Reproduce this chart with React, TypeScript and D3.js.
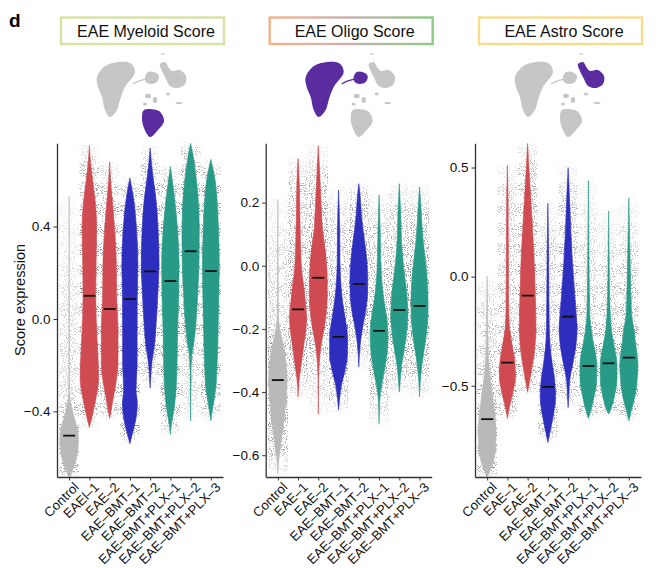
import React, { useEffect, useRef } from 'react';
import * as d3 from 'd3';

// categories
const groups = ['Control', 'EAE–1', 'EAE–2', 'EAE–BMT–1', 'EAE–BMT–2', 'EAE–BMT+PLX–1', 'EAE–BMT+PLX–2', 'EAE–BMT+PLX–3'];
const myeloidLabels = ['Control', 'EAEl–1', 'EAE–2', 'EAE–BMT–1', 'EAE–BMT–2', 'EAE–BMT+PLX–1', 'EAE–BMT+PLX–2', 'EAE–BMT+PLX–3'];
const groupColors = ['#b9b9b9', '#cf4b51', '#cf4b51', '#2d2dbe', '#2d2dbe', '#279a88', '#279a88', '#279a88'];

const titles = ['EAE Myeloid Score', 'EAE Oligo Score', 'EAE Astro Score'];

// axis limits and ticks
const yDomains = [[-0.684, 0.76], [-0.669, 0.388], [-0.918, 0.611]];
const yTicks = [[-0.4, 0, 0.4], [-0.6, -0.4, -0.2, 0, 0.2], [-0.5, 0, 0.5]];

// medians
const myeloidMedians = [-0.505, 0.1, 0.043, 0.086, 0.206, 0.164, 0.293, 0.207];
const oligoMedians = [-0.362, -0.138, -0.038, -0.225, -0.058, -0.206, -0.14, -0.127];
const astroMedians = [-0.653, -0.394, -0.087, -0.505, -0.183, -0.409, -0.397, -0.371];

// violin profiles: [score, relative width]
const myeloidViolins = [
  [[0.53, 0], [0.0, 0.015], [-0.2, 0.02], [-0.33, 0.06], [-0.37, 0.2], [-0.42, 0.5], [-0.47, 0.85], [-0.52, 1], [-0.6, 0.8], [-0.66, 0.3], [-0.69, 0]],
  [[0.75, 0], [0.67, 0.14], [0.6, 0.35], [0.53, 0.57], [0.4, 0.78], [0.24, 0.72], [0.1, 0.68], [-0.05, 0.78], [-0.19, 0.96], [-0.26, 1], [-0.34, 0.72], [-0.41, 0.36], [-0.47, 0]],
  [[0.68, 0], [0.6, 0.1], [0.53, 0.25], [0.385, 0.54], [0.24, 0.72], [0.1, 0.75], [-0.05, 0.9], [-0.19, 0.9], [-0.26, 0.75], [-0.34, 0.4], [-0.41, 0.1], [-0.43, 0]],
  [[0.61, 0], [0.53, 0.36], [0.385, 0.72], [0.24, 0.86], [0.1, 0.8], [-0.05, 0.78], [-0.19, 0.78], [-0.31, 0.66], [-0.36, 0.8], [-0.44, 0.62], [-0.5, 0.25], [-0.54, 0]],
  [[0.74, 0], [0.67, 0.15], [0.6, 0.36], [0.53, 0.6], [0.385, 0.86], [0.24, 0.96], [0.1, 0.82], [-0.05, 0.6], [-0.12, 0.45], [-0.19, 0.18], [-0.26, 0.06], [-0.3, 0]],
  [[0.66, 0], [0.6, 0.2], [0.53, 0.43], [0.385, 0.78], [0.24, 0.93], [0.1, 0.9], [-0.05, 0.78], [-0.19, 0.72], [-0.34, 0.54], [-0.41, 0.32], [-0.46, 0.1], [-0.5, 0]],
  [[0.76, 0], [0.72, 0.2], [0.67, 0.4], [0.53, 0.8], [0.385, 0.93], [0.24, 0.9], [0.1, 0.75], [-0.02, 0.57], [-0.1, 0.36], [-0.16, 0.12], [-0.22, 0.05], [-0.34, 0.03], [-0.44, 0]],
  [[0.69, 0], [0.6, 0.46], [0.53, 0.64], [0.385, 0.82], [0.24, 0.9], [0.1, 0.86], [-0.05, 0.78], [-0.19, 0.68], [-0.31, 0.5], [-0.38, 0.22], [-0.44, 0]],
];

const oligoViolins = [
  [[0.21, 0], [0.0, 0.03], [-0.15, 0.06], [-0.2, 0.2], [-0.25, 0.58], [-0.31, 0.88], [-0.36, 1], [-0.41, 0.92], [-0.47, 0.73], [-0.52, 0.54], [-0.57, 0.3], [-0.61, 0.12], [-0.66, 0]],
  [[0.34, 0], [0.27, 0.12], [0.166, 0.19], [0.06, 0.27], [-0.014, 0.38], [-0.066, 0.62], [-0.12, 0.8], [-0.17, 0.92], [-0.2, 0.85], [-0.25, 0.62], [-0.31, 0.35], [-0.36, 0.12], [-0.415, 0]],
  [[0.38, 0], [0.27, 0.19], [0.166, 0.35], [0.113, 0.46], [0.06, 0.7], [0.007, 0.88], [-0.045, 0.96], [-0.098, 0.96], [-0.15, 0.85], [-0.2, 0.62], [-0.25, 0.3], [-0.31, 0.1], [-0.36, 0.03], [-0.47, 0]],
  [[0.24, 0], [0.113, 0.12], [0.007, 0.15], [-0.066, 0.27], [-0.12, 0.46], [-0.17, 0.73], [-0.225, 0.96], [-0.28, 0.96], [-0.33, 0.7], [-0.38, 0.3], [-0.425, 0.1], [-0.457, 0]],
  [[0.26, 0], [0.22, 0.15], [0.166, 0.27], [0.113, 0.46], [0.06, 0.7], [0.007, 0.88], [-0.045, 0.96], [-0.098, 0.92], [-0.15, 0.7], [-0.2, 0.38], [-0.25, 0.15], [-0.32, 0]],
  [[0.224, 0], [0.113, 0.12], [0.007, 0.19], [-0.066, 0.35], [-0.12, 0.58], [-0.17, 0.85], [-0.225, 0.96], [-0.28, 0.85], [-0.33, 0.58], [-0.38, 0.27], [-0.425, 0.08], [-0.5, 0]],
  [[0.26, 0], [0.166, 0.15], [0.06, 0.27], [-0.014, 0.5], [-0.066, 0.73], [-0.12, 0.88], [-0.16, 0.92], [-0.215, 0.77], [-0.27, 0.5], [-0.32, 0.23], [-0.37, 0.08], [-0.4, 0]],
  [[0.25, 0], [0.166, 0.19], [0.092, 0.35], [0.028, 0.58], [-0.024, 0.77], [-0.077, 0.88], [-0.13, 0.92], [-0.183, 0.85], [-0.235, 0.65], [-0.288, 0.38], [-0.34, 0.15], [-0.415, 0]],
];

const astroViolins = [
  [[0.0, 0], [-0.15, 0.04], [-0.32, 0.1], [-0.4, 0.2], [-0.49, 0.4], [-0.55, 0.6], [-0.62, 0.8], [-0.7, 0.96], [-0.78, 0.92], [-0.84, 0.7], [-0.88, 0.4], [-0.92, 0]],
  [[0.51, 0], [0.37, 0.07], [0.06, 0.11], [-0.17, 0.15], [-0.24, 0.25], [-0.32, 0.54], [-0.4, 0.83], [-0.46, 0.87], [-0.52, 0.65], [-0.58, 0.32], [-0.63, 0.07], [-0.65, 0]],
  [[0.61, 0], [0.52, 0.11], [0.37, 0.32], [0.21, 0.54], [0.06, 0.72], [-0.09, 0.83], [-0.24, 0.9], [-0.32, 0.79], [-0.4, 0.54], [-0.47, 0.25], [-0.52, 0.04], [-0.53, 0]],
  [[0.336, 0], [0.14, 0.07], [-0.09, 0.11], [-0.24, 0.15], [-0.32, 0.25], [-0.4, 0.47], [-0.47, 0.72], [-0.55, 0.83], [-0.63, 0.61], [-0.7, 0.29], [-0.76, 0]],
  [[0.5, 0], [0.37, 0.14], [0.21, 0.29], [0.06, 0.47], [-0.09, 0.72], [-0.17, 0.87], [-0.24, 0.97], [-0.32, 0.83], [-0.4, 0.5], [-0.47, 0.18], [-0.55, 0.07], [-0.6, 0]],
  [[0.44, 0], [0.06, 0.07], [-0.17, 0.15], [-0.24, 0.29], [-0.32, 0.61], [-0.4, 0.9], [-0.47, 0.9], [-0.55, 0.61], [-0.61, 0.29], [-0.65, 0]],
  [[0.3, 0], [0.06, 0.06], [-0.09, 0.11], [-0.24, 0.29], [-0.32, 0.61], [-0.4, 0.9], [-0.47, 0.9], [-0.55, 0.61], [-0.61, 0.22], [-0.63, 0]],
  [[0.36, 0], [0.06, 0.14], [-0.17, 0.29], [-0.24, 0.54], [-0.32, 0.76], [-0.4, 0.97], [-0.47, 0.9], [-0.55, 0.65], [-0.61, 0.29], [-0.66, 0]],
];

// umap thumbnail outline, relative to panel centre
const umapShapes = {
  oligo: [[-42, 77], [-32, 65], [-9, 63], [-4, 72], [-14, 87], [-19, 100], [-22, 110], [-29, 117], [-34, 110], [-37, 97], [-41, 87]],
  opc: [[6, 77], [9, 72], [15, 72], [20, 76], [18, 82], [12, 84], [7, 82]],
  astro: [[21, 64], [26, 62], [30, 68], [33, 71], [41, 70], [47, 76], [46, 84], [39, 88], [31, 86], [27, 79], [23, 71]],
  myeloid: [[5, 110], [20, 111], [25, 121], [19, 130], [11, 137], [5, 128], [3, 118]],
};
const umapIslands = [[9, 96, 3, 2.2], [16, 100, 2.2, 3], [6, 104, 2, 1.5], [40, 103, 3.5, 1], [29, 94, 2, 1.5], [24, 54, 2, 0.8]];

const panels = [
  { labels: myeloidLabels, medians: myeloidMedians, violins: myeloidViolins, hi: ['myeloid'], border: '#d5e3a2' },
  { labels: groups, medians: oligoMedians, violins: oligoViolins, hi: ['oligo', 'opc'], border: 'url(#oligoBorder)' },
  { labels: groups, medians: astroMedians, violins: astroViolins, hi: ['astro'], border: '#f8dc8c' },
];

const FONT = 'Liberation Sans, Arial, Helvetica, sans-serif';

export default function App() {
  const ref = useRef<SVGSVGElement>(null);

  useEffect(() => {
    const svg = d3.select(ref.current);
    svg.selectAll('*').remove();

    const panelX = [57, 265.7, 475];
    const panelW = 166;
    const top = 143.3;
    const bottom = 477;

    const defs = svg.append('defs');
    const f = defs.append('filter').attr('id', 'speckle')
      .attr('filterUnits', 'userSpaceOnUse')
      .attr('x', 0).attr('y', 0).attr('width', 662).attr('height', 568)
      .attr('color-interpolation-filters', 'sRGB');
    f.append('feTurbulence').attr('type', 'fractalNoise').attr('baseFrequency', 0.95)
      .attr('numOctaves', 1).attr('seed', 11).attr('result', 'noise');
    f.append('feColorMatrix').attr('in', 'noise').attr('type', 'matrix')
      .attr('values', '0 0 0 0 0.5  0 0 0 0 0.5  0 0 0 0 0.5  16 0 0 0 -9.0')
      .attr('result', 'dots');
    f.append('feComposite').attr('in', 'dots').attr('in2', 'SourceGraphic').attr('operator', 'in');

    const og = defs.append('linearGradient').attr('id', 'oligoBorder')
      .attr('x1', 0).attr('y1', 0).attr('x2', 1).attr('y2', 0);
    og.append('stop').attr('offset', 0).attr('stop-color', '#f2b488');
    og.append('stop').attr('offset', 0.5).attr('stop-color', '#c8b0b0');
    og.append('stop').attr('offset', 1).attr('stop-color', '#8ccb82');

    // panel letter
    svg.append('text').attr('x', 9).attr('y', 27)
      .attr('font-family', FONT).attr('font-weight', 'bold').attr('font-size', 19)
      .text('d');

    // y title
    svg.append('text')
      .attr('transform', 'translate(25,300) rotate(-90)')
      .attr('text-anchor', 'middle')
      .attr('font-family', FONT).attr('font-size', 14.5).attr('fill', '#111')
      .text('Score expression');

    const blob = d3.line().curve(d3.curveCatmullRomClosed.alpha(0.5));

    panels.forEach((p, pi) => {
      const x0 = panelX[pi];
      const cxPanel = x0 + panelW / 2;
      const g = svg.append('g');

      // title box
      g.append('rect')
        .attr('x', x0 + 4).attr('y', 17.5).attr('width', 163).attr('height', 26.5)
        .attr('fill', 'none').attr('stroke', p.border).attr('stroke-width', 2.4);
      g.append('text')
        .attr('x', x0 + 89).attr('y', 37.2)
        .attr('text-anchor', 'middle')
        .attr('font-family', FONT).attr('font-size', 16).attr('fill', '#111')
        .text(titles[pi]);

      // umap thumbnail
      const um = g.append('g').attr('transform', `translate(${cxPanel - 1},0)`);
      Object.entries(umapShapes).forEach(([k, pts]) => {
        um.append('path').attr('d', blob(pts as [number, number][]))
          .attr('fill', p.hi.includes(k) ? '#5b2c9f' : '#c6c6c6');
      });
      um.append('path')
        .attr('d', d3.line().curve(d3.curveBasis)([[-6, 84], [-1, 81], [7, 79]]))
        .attr('fill', 'none').attr('stroke-width', 1.4)
        .attr('stroke', p.hi.includes('opc') ? '#5b2c9f' : '#c6c6c6');
      um.selectAll('ellipse.isl').data(umapIslands).enter().append('ellipse')
        .attr('cx', d => d[0]).attr('cy', d => d[1]).attr('rx', d => d[2]).attr('ry', d => d[3])
        .attr('fill', '#c6c6c6');

      // scales
      const x = d3.scalePoint().domain(groups).range([x0, x0 + panelW]).padding(0.6);
      const y = d3.scaleLinear().domain(yDomains[pi]).range([bottom, top]);
      const w = d3.scaleLinear().domain([0, 1]).range([0, 9.3]);

      // jitter haze
      const haze = g.append('g').attr('filter', 'url(#speckle)');
      p.violins.forEach((v, i) => {
        const pts = [...v].sort((a, b) => b[0] - a[0]);
        const yTop = y(pts[0][0]) - 2;
        const yBot = y(pts[pts.length - 1][0]) + 2;
        const id = `haze-${pi}-${i}`;
        const lg = defs.append('linearGradient').attr('id', id)
          .attr('x1', 0).attr('y1', 0).attr('x2', 0).attr('y2', 1);
        pts.forEach(d => {
          lg.append('stop')
            .attr('offset', (y(d[0]) - yTop) / (yBot - yTop))
            .attr('stop-color', '#000')
            .attr('stop-opacity', d[1] > 0 ? 0.3 + 0.7 * Math.sqrt(d[1]) : 0.1);
        });
        const cx = x(groups[i]) as number;
        haze.append('rect')
          .attr('x', cx - 9.8).attr('width', 19.6)
          .attr('y', yTop).attr('height', yBot - yTop)
          .attr('fill', `url(#${id})`);
      });

      // violins
      p.violins.forEach((v, i) => {
        const cx = x(groups[i]) as number;
        const pts = [...v].sort((a, b) => b[0] - a[0]);
        const area = d3.area<number[]>()
          .y(d => y(d[0]))
          .x0(d => cx - w(d[1]))
          .x1(d => cx + w(d[1]))
          .curve(d3.curveMonotoneY);
        g.append('path').attr('d', area(pts))
          .attr('fill', groupColors[i])
          .attr('stroke', groupColors[i]).attr('stroke-width', 0.6);
      });

      // medians
      g.selectAll('line.med').data(p.medians).enter().append('line')
        .attr('x1', (d, i) => (x(groups[i]) as number) - 6)
        .attr('x2', (d, i) => (x(groups[i]) as number) + 6)
        .attr('y1', d => y(d)).attr('y2', d => y(d))
        .attr('stroke', '#111').attr('stroke-width', 1.8);

      // y axis
      const fmt = (d: number) => (d < 0 ? '−' : '') + Math.abs(d).toFixed(1);
      const ya = g.append('g').attr('transform', `translate(${x0},0)`)
        .call(d3.axisLeft(y).tickValues(yTicks[pi]).tickSize(3.5).tickSizeOuter(0).tickPadding(3).tickFormat(fmt as any));
      ya.select('.domain').attr('stroke', '#333').attr('stroke-width', 1.3);
      ya.selectAll('.tick line').attr('stroke', '#333').attr('stroke-width', 1);
      ya.selectAll('.tick text').attr('font-family', FONT).attr('font-size', 13.5).attr('fill', '#111');

      // x axis
      const xa = g.append('g').attr('transform', `translate(0,${bottom})`)
        .call(d3.axisBottom(x).tickSize(3.5).tickSizeOuter(0).tickFormat((d, i) => p.labels[i]));
      xa.select('.domain').attr('stroke', '#333').attr('stroke-width', 1.3);
      xa.selectAll('.tick line').attr('stroke', '#333').attr('stroke-width', 1);
      xa.selectAll('.tick text')
        .attr('font-family', FONT).attr('font-size', 13.2).attr('fill', '#111')
        .attr('text-anchor', 'end')
        .attr('transform', 'translate(3,4) rotate(-45)')
        .attr('y', 0).attr('dy', '0.75em');
    });
  }, []);

  return (
    <svg ref={ref} width={662} height={568}
      style={{ position: 'absolute', left: 0, top: 0, background: '#fff' }} />
  );
}
